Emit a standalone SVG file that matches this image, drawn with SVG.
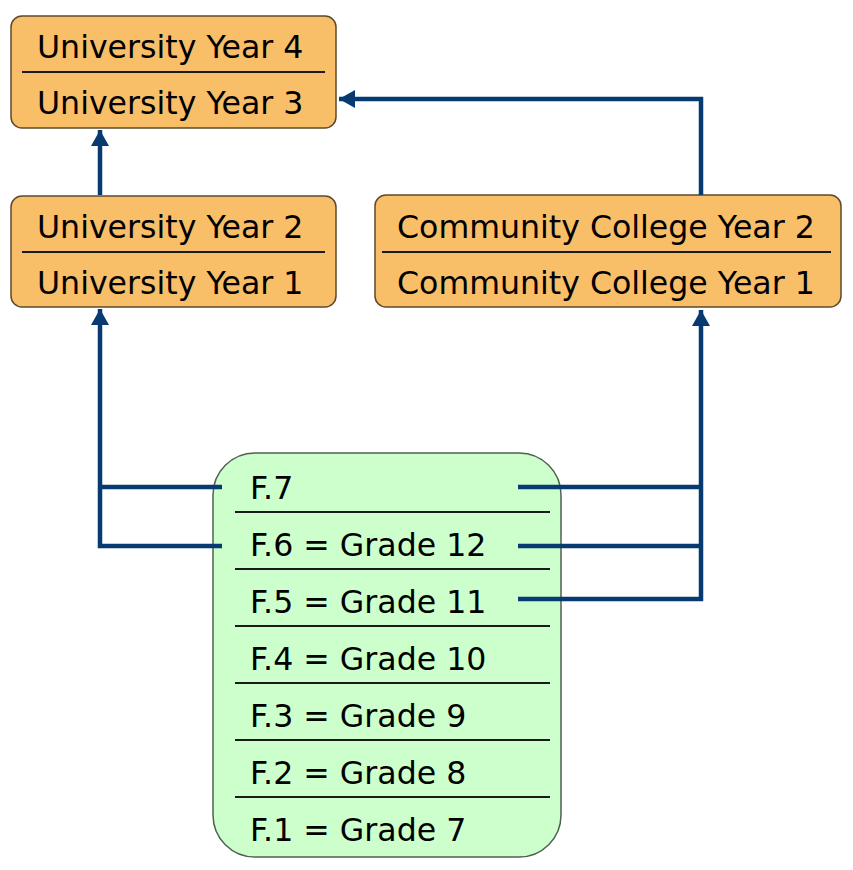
<svg xmlns="http://www.w3.org/2000/svg" width="853" height="870" viewBox="0 0 853 870">
<defs>
<style>
.ob{fill:#F9BE68;stroke:#5E4A2C;stroke-width:1.5}
.gb{fill:#CCFFCC;stroke:#4F614F;stroke-width:1.5}
.dv{stroke:#1a1a1a;stroke-width:2}
.t{font-family:"DejaVu Sans","Verdana",sans-serif;font-size:31.6px;fill:#000}
.c{fill:none;stroke:#063A70;stroke-width:4.5}
</style>
<marker id="ah" markerUnits="userSpaceOnUse" markerWidth="18" markerHeight="18" viewBox="0 0 16 18" refX="16" refY="9" orient="auto">
<path d="M0,0 L16,9 L0,18 Z" fill="#063A70"/>
</marker>
</defs>
<rect width="853" height="870" fill="#fff"/>
<g id="univ34">
<rect class="ob" x="11" y="16" width="325" height="112" rx="11"/>
<line class="dv" x1="22" y1="72" x2="325" y2="72"/>
<text class="t" x="37" y="58">University Year 4</text>
<text class="t" x="37" y="114">University Year 3</text>
</g>
<g id="univ12">
<rect class="ob" x="11" y="196" width="325" height="111" rx="11"/>
<line class="dv" x1="22" y1="252" x2="325" y2="252"/>
<text class="t" x="37" y="238">University Year 2</text>
<text class="t" x="37" y="294">University Year 1</text>
</g>
<g id="cc">
<rect class="ob" x="375" y="195" width="466" height="112" rx="11"/>
<line class="dv" x1="382" y1="252" x2="831" y2="252"/>
<text class="t" x="397" y="238">Community College Year 2</text>
<text class="t" x="397" y="294">Community College Year 1</text>
</g>
<g id="forms">
<rect class="gb" x="213" y="453" width="348" height="404" rx="42"/>
<line class="dv" x1="235" y1="512" x2="550" y2="512"/>
<line class="dv" x1="235" y1="569" x2="550" y2="569"/>
<line class="dv" x1="235" y1="626" x2="550" y2="626"/>
<line class="dv" x1="235" y1="683" x2="550" y2="683"/>
<line class="dv" x1="235" y1="740" x2="550" y2="740"/>
<line class="dv" x1="235" y1="797" x2="550" y2="797"/>
<text class="t" x="250" y="499">F.7</text>
<text class="t" x="250" y="556">F.6 = Grade 12</text>
<text class="t" x="250" y="613">F.5 = Grade 11</text>
<text class="t" x="250" y="670">F.4 = Grade 10</text>
<text class="t" x="250" y="727">F.3 = Grade 9</text>
<text class="t" x="250" y="784">F.2 = Grade 8</text>
<text class="t" x="250" y="841">F.1 = Grade 7</text>
</g>
<g id="connectors">
<path class="c" d="M100,195 L100,130" marker-end="url(#ah)"/>
<path class="c" d="M701,195 L701,99 L339,99" marker-end="url(#ah)"/>
<path class="c" d="M222,487 L100,487 M222,546 L100,546 L100,309" marker-end="url(#ah)"/>
<path class="c" d="M518,487 L701,487 M518,546 L701,546 M518,599 L701,599 L701,310" marker-end="url(#ah)"/>
</g>
</svg>
